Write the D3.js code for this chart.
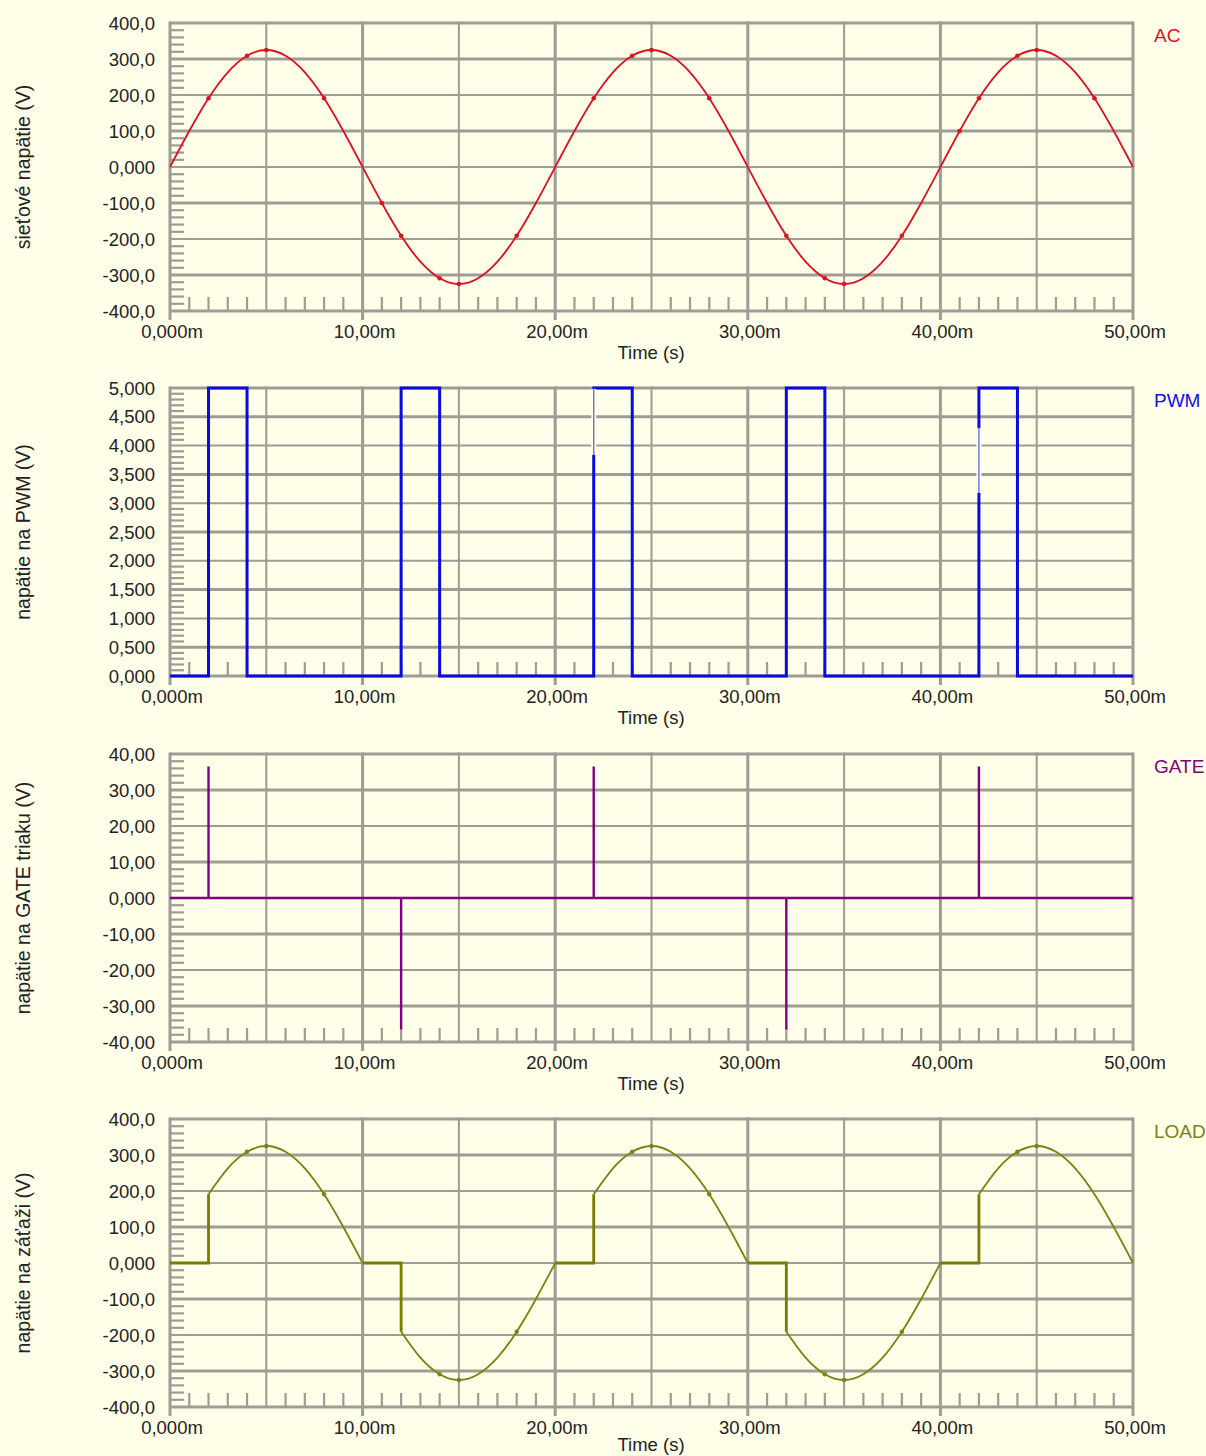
<!DOCTYPE html>
<html>
<head>
<meta charset="utf-8">
<script src="https://cdn.jsdelivr.net/npm/d3@7"></script>
<style>
body { margin: 0; background: #fefee9; }
text { font-family: "Liberation Sans", Arial, sans-serif; }
</style>
</head>
<body>
<div id="chart"></div>
<script>
// time axis (ms)
var timeTicks = [0, 5, 10, 15, 20, 25, 30, 35, 40, 45, 50];
var timeLabels = ["0,000m", "10,00m", "20,00m", "30,00m", "40,00m", "50,00m"];

// AC mains voltage, read every 1 ms from 0 to 50 ms
var acValues = [
    0, 100, 191, 263, 309, 325, 309, 263, 191, 100,
    0, -100, -191, -263, -309, -325, -309, -263, -191, -100,
    0, 100, 191, 263, 309, 325, 309, 263, 191, 100,
    0, -100, -191, -263, -309, -325, -309, -263, -191, -100,
    0, 100, 191, 263, 309, 325, 309, 263, 191, 100,
    0
];
var acMarkers = [2, 4, 5, 8, 11, 12, 14, 15, 18, 22, 24, 25, 28, 32, 34, 35, 38, 41, 42, 44, 45, 48];

// PWM pulses (start, end in ms) and level
var pwmPulses = [[2, 4], [12, 14], [22, 24], [32, 34], [42, 44]];
var pwmHigh = 5;
// faded bits on some rising edges: [time, from V, to V]
var pwmFaded = [[22, 5.0, 3.84], [42, 4.32, 3.18]];

// gate pulses
var gateTimes = [2, 12, 22, 32, 42];
var gateValues = [36.5, -36.5, 36.5, -36.5, 36.5];

// triac conducting windows -> load voltage
var loadOn = [[2, 10], [12, 20], [22, 30], [32, 40], [42, 50]];
var loadMarkers = [4, 5, 8, 14, 15, 18, 24, 25, 28, 34, 35, 38, 44, 45];

var acTicks = ["400,0", "300,0", "200,0", "100,0", "0,000", "-100,0", "-200,0", "-300,0", "-400,0"];
var pwmTicks = ["5,000", "4,500", "4,000", "3,500", "3,000", "2,500", "2,000", "1,500", "1,000", "0,500", "0,000"];
var gateTicks = ["40,00", "30,00", "20,00", "10,00", "0,000", "-10,00", "-20,00", "-30,00", "-40,00"];

var width = 1206, height = 1456;
var left = 170, right = 1133, plotH = 288;
var gridColor = "#9d9c95";

var svg = d3.select("#chart").append("svg")
    .attr("width", width)
    .attr("height", height);

svg.append("rect").attr("width", width).attr("height", height).attr("fill", "#fefee9");

var x = d3.scaleLinear().domain([0, 50]).range([left, right]);

function buildPanel(top, domain, step, ticks, yLabel, name, color, timeOffset) {
    var g = svg.append("g");
    var bottom = top + plotH;
    var y = d3.scaleLinear().domain(domain).range([bottom, top]);
    var yVals = d3.range(ticks.length).map(function(i) { return domain[1] - i * step; });

    // minor ticks on the left
    var minor = [];
    for (var i = 0; i < yVals.length - 1; i++) {
        for (var k = 1; k < 5; k++) minor.push(yVals[i] - k * step / 5);
    }
    g.selectAll(".minY").data(minor).enter().append("line")
        .attr("x1", left).attr("x2", left + 14)
        .attr("y1", function(d) { return y(d); }).attr("y2", function(d) { return y(d); })
        .attr("stroke", gridColor).attr("stroke-width", 2.2);

    // minor ticks on the bottom
    var minorX = d3.range(1, 50).filter(function(d) { return d % 5 != 0; });
    g.selectAll(".minX").data(minorX).enter().append("line")
        .attr("x1", function(d) { return x(d); }).attr("x2", function(d) { return x(d); })
        .attr("y1", bottom).attr("y2", bottom - 14)
        .attr("stroke", gridColor).attr("stroke-width", 2.2);

    // horizontal grid
    g.selectAll(".gy").data(yVals).enter().append("line")
        .attr("x1", left).attr("x2", right)
        .attr("y1", function(d) { return y(d); }).attr("y2", function(d) { return y(d); })
        .attr("stroke", gridColor)
        .attr("stroke-width", function(d, i) { return (i % 2 == 1 || i == 0 || i == yVals.length - 1) ? 3 : 2; });

    // vertical grid
    g.selectAll(".gx").data(timeTicks).enter().append("line")
        .attr("x1", function(d) { return x(d); }).attr("x2", function(d) { return x(d); })
        .attr("y1", top - 1.5)
        .attr("y2", function(d) { return d % 10 == 0 ? bottom + 9 : bottom; })
        .attr("stroke", gridColor)
        .attr("stroke-width", function(d) { return d % 10 == 0 ? 3 : 2; });

    // y tick labels
    g.selectAll(".ty").data(ticks).enter().append("text")
        .attr("x", 155)
        .attr("y", function(d, i) { return y(yVals[i]); })
        .attr("dy", "0.36em")
        .attr("text-anchor", "end")
        .style("font-size", "18.5px")
        .attr("fill", "#222")
        .text(function(d) { return d; });

    // x tick labels
    g.selectAll(".tx").data(timeLabels).enter().append("text")
        .attr("x", function(d, i) { return x(i * 10) + 2; })
        .attr("y", bottom + 20)
        .attr("dy", "0.36em")
        .attr("text-anchor", "middle")
        .style("font-size", "18.5px")
        .attr("fill", "#222")
        .text(function(d) { return d; });

    g.append("text")
        .attr("x", 651).attr("y", bottom + (timeOffset || 41))
        .attr("dy", "0.36em")
        .attr("text-anchor", "middle")
        .style("font-size", "18.5px")
        .attr("fill", "#222")
        .text("Time (s)");

    g.append("text")
        .attr("transform", "translate(30," + (top + plotH / 2) + ") rotate(-90)")
        .attr("text-anchor", "middle")
        .style("font-size", "19.5px")
        .attr("fill", "#222")
        .text(yLabel);

    g.append("text")
        .attr("x", 1154).attr("y", top + 12)
        .attr("dy", "0.36em")
        .style("font-size", "19px")
        .attr("fill", color)
        .text(name);

    return { g: g, y: y };
}

// --- AC panel
var p1 = buildPanel(23, [-400, 400], 100, acTicks, "sieťové napätie (V)", "AC", "#e01020");
var acLine = d3.line()
    .x(function(d, i) { return x(i); })
    .y(function(d) { return p1.y(d); })
    .curve(d3.curveNatural);
p1.g.append("path").datum(acValues)
    .attr("d", acLine).attr("fill", "none")
    .attr("stroke", "#e01020").attr("stroke-width", 1.8);
p1.g.selectAll(".mk").data(acMarkers).enter().append("circle")
    .attr("cx", function(d) { return x(d); })
    .attr("cy", function(d) { return p1.y(acValues[d]); })
    .attr("r", 2.3).attr("fill", "#e01020");

// --- PWM panel
var p2 = buildPanel(388, [0, 5], 0.5, pwmTicks, "napätie na PWM (V)", "PWM", "#1010e0");
var pwmPts = [[0, 0]];
pwmPulses.forEach(function(p) {
    pwmPts.push([p[0], 0], [p[0], pwmHigh], [p[1], pwmHigh], [p[1], 0]);
});
pwmPts.push([50, 0]);
p2.g.append("path").datum(pwmPts)
    .attr("d", d3.line().x(function(d) { return x(d[0]); }).y(function(d) { return p2.y(d[1]); }))
    .attr("fill", "none").attr("stroke", "#0a0ae0").attr("stroke-width", 3);
pwmFaded.forEach(function(f) {
    p2.g.append("rect")
        .attr("x", x(f[0]) - 2.5).attr("width", 5)
        .attr("y", p2.y(f[1]) + 1).attr("height", p2.y(f[2]) - p2.y(f[1]) - 1)
        .attr("fill", "#fefee9");
    p2.g.append("line")
        .attr("x1", x(f[0])).attr("x2", x(f[0]))
        .attr("y1", p2.y(f[1])).attr("y2", p2.y(f[2]))
        .attr("stroke", "#6a6af4").attr("stroke-width", 1.4);
});

// --- GATE panel
var p3 = buildPanel(754, [-40, 40], 10, gateTicks, "napätie na GATE triaku (V)", "GATE", "#800080");
var gatePts = [[0, 0]];
gateTimes.forEach(function(t, i) {
    gatePts.push([t, 0], [t, gateValues[i]], [t, 0]);
});
gatePts.push([50, 0]);
p3.g.append("path").datum(gatePts)
    .attr("d", d3.line().x(function(d) { return x(d[0]); }).y(function(d) { return p3.y(d[1]); }))
    .attr("fill", "none").attr("stroke", "#800080").attr("stroke-width", 2.4);

// --- LOAD panel
var p4 = buildPanel(1119, [-400, 400], 100, acTicks, "napätie na záťaži (V)", "LOAD", "#808010", 37);
var offPts = [];
var prevEnd = 0;
loadOn.forEach(function(w) {
    offPts.push([[prevEnd, 0], [w[0], 0], [w[0], acValues[w[0]]]]);
    prevEnd = w[1];
});
offPts.forEach(function(seg) {
    p4.g.append("path").datum(seg)
        .attr("d", d3.line().x(function(d) { return x(d[0]); }).y(function(d) { return p4.y(d[1]); }))
        .attr("fill", "none").attr("stroke", "#7a7a00").attr("stroke-width", 2.8);
});
loadOn.forEach(function(w) {
    var idx = d3.range(w[0], w[1] + 1);
    p4.g.append("path").datum(idx)
        .attr("d", d3.line().x(function(d) { return x(d); }).y(function(d) { return p4.y(acValues[d]); }).curve(d3.curveNatural))
        .attr("fill", "none").attr("stroke", "#808010").attr("stroke-width", 1.8);
});
p4.g.selectAll(".mk").data(loadMarkers).enter().append("circle")
    .attr("cx", function(d) { return x(d); })
    .attr("cy", function(d) { return p4.y(acValues[d]); })
    .attr("r", 2.2).attr("fill", "#808010");
</script>
</body>
</html>
